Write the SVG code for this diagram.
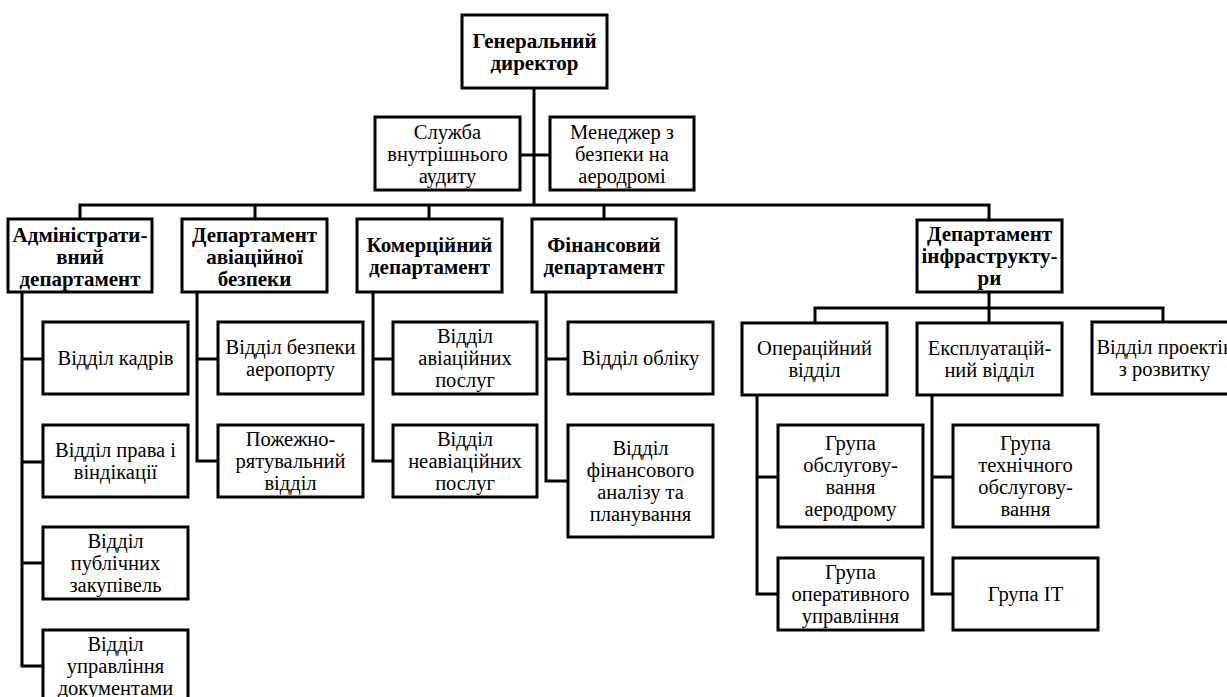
<svg xmlns="http://www.w3.org/2000/svg" width="1227" height="697" viewBox="0 0 1227 697">
<style>
.box{fill:#fff;stroke:#000;stroke-width:3}
.c{fill:none;stroke:#000;stroke-width:3;stroke-linejoin:miter}
text{font-family:"Liberation Serif","Times New Roman",serif;font-size:20.5px;fill:#000;text-anchor:middle}
.b{font-weight:bold;font-size:21px}
</style>
<rect width="1227" height="697" fill="#fff"/>
<g id="connectors">
<path class="c" d="M534,88V205M520,155H550M80,219V205H989V220M255,205V219M429,205V219M604,205V219"/>
<path class="c" d="M22,292V666H43M22,359H43M22,462H43M22,563H43"/>
<path class="c" d="M197,292V461H218M197,359H218"/>
<path class="c" d="M373,292V461H393M373,359H393"/>
<path class="c" d="M546,292V481H568M546,359H568"/>
<path class="c" d="M989,292V308M815,323V308H1163V322M989,308V323"/>
<path class="c" d="M757,395V594H778M757,477H778"/>
<path class="c" d="M932,395V594H953M932,477H953"/>
</g>
<g id="n-general"><rect class="box" x="462" y="15" width="145" height="73"/><text class="b" x="534.5" y="47.5">Генеральний</text><text class="b" x="534.5" y="69.5">директор</text></g>
<g id="n-audit"><rect class="box" x="375" y="117" width="145" height="73"/><text x="447.5" y="138.5">Служба</text><text x="447.5" y="160.5">внутрішнього</text><text x="447.5" y="182.5">аудиту</text></g>
<g id="n-safety"><rect class="box" x="550" y="117" width="144" height="73"/><text x="622" y="138.5">Менеджер з</text><text x="622" y="160.5">безпеки на</text><text x="622" y="182.5">аеродромі</text></g>
<g id="n-admin"><rect class="box" x="8" y="219" width="144" height="73"/><text class="b" x="80" y="241.5">Адміністрати-</text><text class="b" x="80" y="263.5">вний</text><text class="b" x="80" y="285.5">департамент</text></g>
<g id="n-avsec"><rect class="box" x="182" y="219" width="145" height="73"/><text class="b" x="254.5" y="241.5">Департамент</text><text class="b" x="254.5" y="263.5">авіаційної</text><text class="b" x="254.5" y="285.5">безпеки</text></g>
<g id="n-comm"><rect class="box" x="357" y="219" width="145" height="73"/><text class="b" x="429.5" y="251.5">Комерційний</text><text class="b" x="429.5" y="273.5">департамент</text></g>
<g id="n-fin"><rect class="box" x="532" y="219" width="144" height="73"/><text class="b" x="604" y="251.5">Фінансовий</text><text class="b" x="604" y="273.5">департамент</text></g>
<g id="n-infra"><rect class="box" x="917" y="220" width="145" height="72"/><text class="b" x="989.5" y="241">Департамент</text><text class="b" x="989.5" y="263">інфраструкту-</text><text class="b" x="989.5" y="285">ри</text></g>
<g id="n-hr"><rect class="box" x="43" y="322" width="145" height="72"/><text x="115.5" y="365">Відділ кадрів</text></g>
<g id="n-law"><rect class="box" x="43" y="425" width="145" height="72"/><text x="115.5" y="457">Відділ права і</text><text x="115.5" y="479">віндікації</text></g>
<g id="n-proc"><rect class="box" x="43" y="527" width="145" height="72"/><text x="115.5" y="548">Відділ</text><text x="115.5" y="570">публічних</text><text x="115.5" y="592">закупівель</text></g>
<g id="n-docs"><rect class="box" x="43" y="630" width="145" height="72"/><text x="115.5" y="651">Відділ</text><text x="115.5" y="673">управління</text><text x="115.5" y="695">документами</text></g>
<g id="n-apsec"><rect class="box" x="218" y="322" width="145" height="72"/><text x="290.5" y="354">Відділ безпеки</text><text x="290.5" y="376">аеропорту</text></g>
<g id="n-fire"><rect class="box" x="218" y="425" width="145" height="72"/><text x="290.5" y="446">Пожежно-</text><text x="290.5" y="468">рятувальний</text><text x="290.5" y="490">відділ</text></g>
<g id="n-avserv"><rect class="box" x="393" y="322" width="144" height="72"/><text x="465" y="343">Відділ</text><text x="465" y="365">авіаційних</text><text x="465" y="387">послуг</text></g>
<g id="n-nonav"><rect class="box" x="393" y="425" width="144" height="72"/><text x="465" y="446">Відділ</text><text x="465" y="468">неавіаційних</text><text x="465" y="490">послуг</text></g>
<g id="n-acc"><rect class="box" x="568" y="322" width="145" height="72"/><text x="640.5" y="365">Відділ обліку</text></g>
<g id="n-finan"><rect class="box" x="568" y="425" width="145" height="112"/><text x="640.5" y="455">Відділ</text><text x="640.5" y="477">фінансового</text><text x="640.5" y="499">аналізу та</text><text x="640.5" y="521">планування</text></g>
<g id="n-ops"><rect class="box" x="742" y="323" width="145" height="72"/><text x="814.5" y="355">Операційний</text><text x="814.5" y="377">відділ</text></g>
<g id="n-expl"><rect class="box" x="917" y="323" width="145" height="72"/><text x="989.5" y="355">Експлуатацій-</text><text x="989.5" y="377">ний відділ</text></g>
<g id="n-proj"><rect class="box" x="1092" y="322" width="145" height="72"/><text x="1164.5" y="354">Відділ проектів</text><text x="1164.5" y="376">з розвитку</text></g>
<g id="n-aero"><rect class="box" x="778" y="425" width="145" height="102"/><text x="850.5" y="450">Група</text><text x="850.5" y="472">обслугову-</text><text x="850.5" y="494">вання</text><text x="850.5" y="516">аеродрому</text></g>
<g id="n-opman"><rect class="box" x="778" y="558" width="145" height="72"/><text x="850.5" y="579">Група</text><text x="850.5" y="601">оперативного</text><text x="850.5" y="623">управління</text></g>
<g id="n-tech"><rect class="box" x="953" y="425" width="145" height="102"/><text x="1025.5" y="450">Група</text><text x="1025.5" y="472">технічного</text><text x="1025.5" y="494">обслугову-</text><text x="1025.5" y="516">вання</text></g>
<g id="n-it"><rect class="box" x="953" y="558" width="145" height="72"/><text x="1025.5" y="601">Група IT</text></g>
</svg>
